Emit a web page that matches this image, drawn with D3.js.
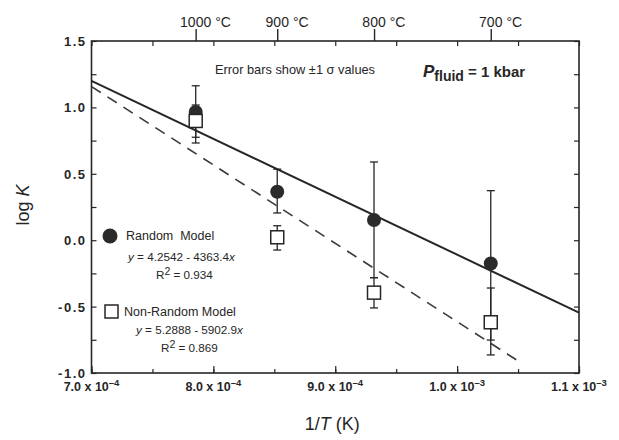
<!DOCTYPE html>
<html>
<head>
<meta charset="utf-8">
<script src="https://cdn.jsdelivr.net/npm/d3@7"></script>
<style>
  body { margin: 0; background: #fff; }
  svg { font-family: Arial, "Liberation Sans", Helvetica, sans-serif; }
</style>
</head>
<body>
<svg id="chart"></svg>
<script>
// values
const tempLabels = [1000, 900, 800, 700];
const invT = [7.855e-4, 8.524e-4, 9.318e-4, 1.0276e-3];

const randomLogK = [0.965, 0.365, 0.152, -0.176];
const randomHi = [1.163, 0.535, 0.589, 0.373];
const randomLo = [0.775, 0.205, -0.282, -0.752];

const nonRandomLogK = [0.898, 0.022, -0.395, -0.618];
const nonRandomHi = [1.018, 0.109, -0.282, -0.360];
const nonRandomLo = [0.732, -0.074, -0.510, -0.864];

// end points of the two fitted lines
const randomFit = [[7.0e-4, 1.200], [1.1e-3, -0.545]];
const nonRandomFit = [[7.0e-4, 1.157], [1.05e-3, -0.909]];

const xTicks = [7.0e-4, 8.0e-4, 9.0e-4, 1.0e-3, 1.1e-3];
const xTickMant = ['7.0', '8.0', '9.0', '1.0', '1.1'];
const xTickExp = ['-4', '-4', '-4', '-3', '-3'];
const yTicks = [1.5, 1.0, 0.5, 0.0, -0.5, -1.0];
const yTickLabels = ['1.5', '1.0', '0.5', '0.0', '-0.5', '-1.0'];

class ArrheniusPlot {

  constructor(_config) {
    this.config = {
      parentElement: _config.parentElement,
      containerWidth: _config.containerWidth || 619,
      containerHeight: _config.containerHeight || 440,
      margin: { top: 41, right: 40, bottom: 67, left: 91.5 }
    };
    this.initVis();
  }

  initVis() {
    let vis = this;

    vis.width = vis.config.containerWidth - vis.config.margin.left - vis.config.margin.right;
    vis.height = vis.config.containerHeight - vis.config.margin.top - vis.config.margin.bottom;

    vis.svg = d3.select(vis.config.parentElement)
      .attr('width', vis.config.containerWidth)
      .attr('height', vis.config.containerHeight);

    vis.chart = vis.svg.append('g')
      .attr('transform', `translate(${vis.config.margin.left},${vis.config.margin.top})`);

    vis.xScale = d3.scaleLinear()
      .domain([7.0e-4, 1.1e-3])
      .range([0, vis.width]);

    vis.yScale = d3.scaleLinear()
      .domain([-1.0, 1.5])
      .range([vis.height, 0]);

    vis.renderVis();
  }

  renderVis() {
    let vis = this;
    const ink = '#262626';

    const minorX = d3.range(7.0e-4, 1.1e-3 + 1e-9, 0.5e-4);
    const minorY = d3.range(-1.0, 1.5 + 1e-9, 0.25);

    // inward ticks on all four sides
    const axes = [
      [d3.axisBottom(vis.xScale).tickValues(minorX).tickSize(-4), `translate(0,${vis.height})`],
      [d3.axisBottom(vis.xScale).tickValues(xTicks).tickSize(-7), `translate(0,${vis.height})`],
      [d3.axisTop(vis.xScale).tickValues(minorX).tickSize(-5), null],
      [d3.axisLeft(vis.yScale).tickValues(minorY).tickSize(-5), null],
      [d3.axisRight(vis.yScale).tickValues(minorY).tickSize(-5), `translate(${vis.width},0)`]
    ];
    axes.forEach(([ax, tr]) => {
      const g = vis.chart.append('g').call(ax.tickFormat('').tickSizeOuter(0));
      if (tr) g.attr('transform', tr);
      g.select('.domain').remove();
      g.selectAll('line').attr('stroke', ink).attr('stroke-width', 1.2);
    });

    // Celsius ticks on the top edge, pointing out
    const topTicks = vis.chart.append('g')
      .call(d3.axisTop(vis.xScale)
        .tickValues(tempLabels.map(t => 1 / (t + 273.15)))
        .tickSize(12).tickSizeOuter(0).tickFormat(''));
    topTicks.select('.domain').remove();
    topTicks.selectAll('line').attr('stroke', ink).attr('stroke-width', 1.4);

    tempLabels.forEach(t => {
      const x = vis.xScale(1 / (t + 273.15));
      const num = vis.chart.append('text')
        .attr('x', x).attr('y', -14)
        .attr('text-anchor', 'middle')
        .style('font-size', '14px').style('fill', ink)
        .text(t);
      const w = num.node().getComputedTextLength();
      vis.chart.append('text')
        .attr('x', x + w / 2 + 4).attr('y', -14)
        .style('font-size', '14px').style('fill', ink)
        .text('°C');
    });

    // frame
    vis.chart.append('rect')
      .attr('width', vis.width).attr('height', vis.height)
      .attr('fill', 'none').attr('stroke', ink).attr('stroke-width', 1.6);

    // y tick labels
    vis.chart.selectAll('.ylab')
      .data(yTicks)
      .join('text')
      .attr('class', 'ylab')
      .attr('x', -5)
      .attr('y', d => vis.yScale(d))
      .attr('dy', '0.38em')
      .attr('text-anchor', 'end')
      .style('font-size', '13px').style('font-weight', 'bold')
      .style('letter-spacing', '1.5px').style('fill', ink)
      .text((d, i) => yTickLabels[i]);

    // x tick labels with superscript exponents
    xTicks.forEach((d, i) => {
      const t = vis.chart.append('text')
        .attr('x', vis.xScale(d)).attr('y', vis.height + 18)
        .attr('text-anchor', 'middle')
        .style('font-size', '12.5px').style('font-weight', 'bold').style('fill', ink);
      t.append('tspan').text(`${xTickMant[i]} x 10`);
      t.append('tspan').attr('dy', -5).style('font-size', '9.5px').text(xTickExp[i].replace('-', '\u2013'));
    });

    // axis titles
    const xt = vis.chart.append('text')
      .attr('x', vis.xScale(9.0e-4) - 3).attr('y', vis.height + 57)
      .attr('text-anchor', 'middle')
      .style('font-size', '18px').style('fill', ink);
    xt.append('tspan').text('1/');
    xt.append('tspan').style('font-style', 'italic').text('T');
    xt.append('tspan').text(' (K)');

    const yt = vis.svg.append('text')
      .attr('transform', 'translate(29,205) rotate(-90)')
      .attr('text-anchor', 'middle')
      .style('font-size', '18px').style('fill', ink);
    yt.append('tspan').text('log ');
    yt.append('tspan').style('font-style', 'italic').text('K');

    // fitted lines
    const line = d3.line()
      .x(d => vis.xScale(d[0]))
      .y(d => vis.yScale(d[1]));

    vis.chart.append('path')
      .datum(randomFit)
      .attr('d', line)
      .attr('fill', 'none').attr('stroke', ink).attr('stroke-width', 2);

    vis.chart.append('path')
      .datum(nonRandomFit)
      .attr('d', line)
      .attr('fill', 'none').attr('stroke', '#3a3a3a').attr('stroke-width', 1.6)
      .attr('stroke-dasharray', '11,8');

    // error bars
    const drawBars = (hi, lo) => {
      invT.forEach((x, i) => {
        const px = vis.xScale(x);
        const g = vis.chart.append('g')
          .attr('stroke', ink).attr('stroke-width', 1.3);
        g.append('line')
          .attr('x1', px).attr('x2', px)
          .attr('y1', vis.yScale(hi[i])).attr('y2', vis.yScale(lo[i]));
        [hi[i], lo[i]].forEach(v => {
          g.append('line')
            .attr('x1', px - 4).attr('x2', px + 4)
            .attr('y1', vis.yScale(v)).attr('y2', vis.yScale(v));
        });
      });
    };
    drawBars(randomHi, randomLo);
    drawBars(nonRandomHi, nonRandomLo);

    // random model points
    vis.chart.selectAll('.rnd')
      .data(randomLogK)
      .join('circle')
      .attr('class', 'rnd')
      .attr('cx', (d, i) => vis.xScale(invT[i]))
      .attr('cy', d => vis.yScale(d))
      .attr('r', 7)
      .attr('fill', '#2b2b2b');

    // non-random model points
    const s = 13;
    vis.chart.selectAll('.nrnd')
      .data(nonRandomLogK)
      .join('rect')
      .attr('class', 'nrnd')
      .attr('x', (d, i) => vis.xScale(invT[i]) - s / 2)
      .attr('y', d => vis.yScale(d) - s / 2)
      .attr('width', s).attr('height', s)
      .attr('fill', '#fff').attr('stroke', ink).attr('stroke-width', 1.5);

    // annotations
    vis.svg.append('text')
      .attr('x', 215).attr('y', 74)
      .style('font-size', '12.8px').style('fill', ink)
      .text('Error bars show \u00b11 \u03c3 values');

    const p = vis.svg.append('text')
      .attr('x', 423).attr('y', 77)
      .style('font-weight', 'bold').style('fill', ink);
    p.append('tspan').style('font-size', '17px').style('font-style', 'italic').text('P');
    p.append('tspan').attr('dy', 4).style('font-size', '14px').text('fluid');
    p.append('tspan').attr('dy', -4).style('font-size', '15px').text(' = 1 kbar');

    // legend
    vis.svg.append('circle')
      .attr('cx', 110).attr('cy', 236).attr('r', 7.5)
      .attr('fill', '#2b2b2b');
    vis.svg.append('text')
      .attr('x', 126).attr('y', 240)
      .style('font-size', '12.5px').style('fill', ink)
      .style('white-space', 'pre')
      .text('Random  Model');

    vis.svg.append('rect')
      .attr('x', 105).attr('y', 305).attr('width', 13).attr('height', 13)
      .attr('fill', '#fff').attr('stroke', ink).attr('stroke-width', 1.5);
    vis.svg.append('text')
      .attr('x', 124).attr('y', 316)
      .style('font-size', '12.5px').style('fill', ink)
      .text('Non-Random Model');

    const eq = (x, y, a, b) => {
      const t = vis.svg.append('text')
        .attr('x', x).attr('y', y)
        .style('font-size', '11.7px').style('fill', ink);
      t.append('tspan').style('font-style', 'italic').text('y');
      t.append('tspan').text(` = ${a} - ${b}`);
      t.append('tspan').style('font-style', 'italic').text('x');
    };
    const r2 = (x, y, v) => {
      const t = vis.svg.append('text')
        .attr('x', x).attr('y', y)
        .style('font-size', '11.7px').style('fill', ink);
      t.append('tspan').text('R');
      t.append('tspan').attr('dy', -4).style('font-size', '10.5px').text('2');
      t.append('tspan').attr('dy', 4).text(` = ${v}`);
    };
    eq(128, 261, '4.2542', '4363.4');
    r2(156, 279, '0.934');
    eq(136, 334, '5.2888', '5902.9');
    r2(161, 352, '0.869');
  }
}

new ArrheniusPlot({ parentElement: '#chart' });
</script>
</body>
</html>
